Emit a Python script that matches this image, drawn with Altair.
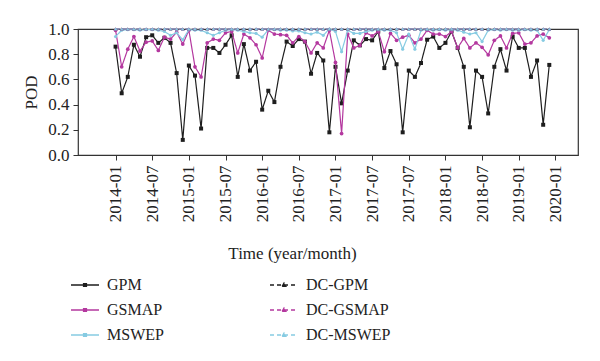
import altair as alt
import pandas as pd

tick_labels = ["2014-01", "2014-07", "2015-01", "2015-07", "2016-01", "2016-07",
               "2017-01", "2017-07", "2017-07", "2018-01", "2018-07", "2019-01", "2020-01"]

gpm = [0.86, 0.49, 0.62, 0.875, 0.78, 0.935, 0.95, 0.89, 0.93, 0.89, 0.65, 0.12,
       0.71, 0.63, 0.21, 0.85, 0.85, 0.81, 0.875, 0.95, 0.62, 0.88, 0.67, 0.74,
       0.36, 0.51, 0.42, 0.70, 0.90, 0.865, 0.92, 0.90, 0.645, 0.81, 0.75, 0.18,
       0.70, 0.41, 0.67, 0.91, 0.87, 0.92, 0.91, 0.98, 0.69, 0.825, 0.72, 0.18,
       0.67, 0.62, 0.73, 0.915, 0.94, 0.85, 0.89, 0.98, 0.85, 0.70, 0.22, 0.67,
       0.62, 0.33, 0.70, 0.84, 0.67, 0.94, 0.85, 0.85, 0.62, 0.75, 0.24, 0.715]

gsmap = [0.99, 0.70, 0.84, 0.94, 0.825, 0.895, 0.905, 0.83, 0.935, 0.92, 0.975, 0.88,
         0.99, 0.70, 0.62, 0.89, 0.92, 0.91, 0.97, 0.98, 0.81, 0.96, 0.93, 0.875,
         0.77, 0.99, 0.96, 0.955, 0.95, 0.89, 0.94, 0.90, 0.81, 0.89, 0.85, 0.99,
         0.735, 0.17, 0.96, 0.85, 0.87, 0.97, 0.945, 0.98, 0.82, 0.965, 0.91, 0.935,
         0.95, 0.89, 0.92, 0.99, 0.96, 0.96, 0.94, 0.98, 0.85, 0.925, 0.85, 0.89,
         0.855, 0.795, 0.91, 0.945, 0.85, 0.965, 0.97, 0.88, 0.89, 0.945, 0.96, 0.93]

mswep = [0.94, 0.99, 0.995, 0.995, 0.99, 0.995, 0.995, 0.99, 0.98, 0.95, 0.97, 0.915,
         0.995, 0.99, 0.99, 0.97, 0.95, 0.97, 0.99, 0.995, 0.99, 0.98, 0.97, 0.965,
         0.935, 0.995, 0.995, 0.99, 0.99, 0.985, 0.985, 0.97, 0.96, 0.975, 0.95, 1.0,
         0.98, 0.82, 0.99, 0.965, 0.965, 0.98, 0.99, 0.995, 0.99, 0.99, 0.97, 0.84,
         0.96, 0.84, 0.99, 0.995, 0.99, 0.995, 0.99, 0.995, 0.99, 0.975, 0.96, 0.97,
         0.90, 0.99, 0.995, 0.99, 0.995, 0.99, 0.99, 0.995, 0.99, 0.99, 0.91, 0.995]

dc_gpm = [1.0, 1.0, 1.0, 1.0, 1.0, 1.0, 1.0, 1.0, 1.0, 1.0, 1.0, 1.0,
          1.0, 1.0, 1.0, 1.0, 1.0, 1.0, 1.0, 1.0, 1.0, 1.0, 1.0, 1.0,
          1.0, 1.0, 1.0, 1.0, 1.0, 1.0, 1.0, 1.0, 1.0, 1.0, 1.0, 1.0,
          1.0, 1.0, 1.0, 1.0, 1.0, 1.0, 1.0, 1.0, 1.0, 1.0, 1.0, 1.0,
          1.0, 1.0, 1.0, 1.0, 1.0, 1.0, 1.0, 1.0, 1.0, 1.0, 1.0, 1.0,
          1.0, 1.0, 1.0, 1.0, 1.0, 1.0, 1.0, 1.0, 1.0, 1.0, 1.0, 1.0]
dc_gsmap = list(dc_gpm)
dc_mswep = list(dc_gpm)

series_names = ["GPM", "GSMAP", "MSWEP", "DC-GPM", "DC-GSMAP", "DC-MSWEP"]
series_values = [gpm, gsmap, mswep, dc_gpm, dc_gsmap, dc_mswep]

rows = []
for name, vals in zip(series_names, series_values):
    for i, v in enumerate(vals):
        rows.append({"series": name, "idx": i, "pod": v})
df = pd.DataFrame(rows)

FONT = "Liberation Serif"
BLACK = "#1e1e1e"
MAG = "#b4389f"
BLUE = "#86cbe2"

legend_order = series_names
color_range = [BLACK, MAG, BLUE, BLACK, MAG, BLUE]
dash_range = [[1, 0], [1, 0], [1, 0], [4, 3], [4, 3], [4, 3]]
dot = "M-1,0H1M-0.1,-0.1H0.1V0.1H-0.1Z"
tri = "M-1,0H1M-0.13,0.1L0,-0.13L0.13,0.1Z"
shape_range = [dot, dot, dot, tri, tri, tri]

color_of = dict(zip(legend_order, color_range))
dash_of = dict(zip(legend_order, dash_range))

color_scale = alt.Scale(domain=legend_order, range=color_range)
dash_scale = alt.Scale(domain=legend_order, range=dash_range)

label_expr = "[" + ",".join("'%s'" % t for t in tick_labels) + "][round(datum.value/6)]"

x_enc = alt.X("idx:Q",
              scale=alt.Scale(domain=[-6.15, 75.7], nice=False, zero=False),
              axis=alt.Axis(values=[i * 6 for i in range(len(tick_labels))],
                            labelExpr=label_expr, labelAngle=-90,
                            labelFont=FONT, labelFontSize=17, labelColor="#222",
                            labelPadding=5, tickSize=5, tickColor="#333",
                            domain=False, grid=False,
                            title="Time (year/month)", titleFont=FONT,
                            titleFontSize=17, titleFontWeight="normal",
                            titleColor="#222", titleX=214, titleY=98,
                            titleBaseline="middle"))
y_enc = alt.Y("pod:Q",
              scale=alt.Scale(domain=[0, 1], nice=False),
              axis=alt.Axis(values=[0, 0.2, 0.4, 0.6, 0.8, 1.0], format=".1f",
                            labelFont=FONT, labelFontSize=17, labelColor="#222",
                            labelPadding=4, tickSize=5, tickColor="#333",
                            domain=False, grid=False,
                            title="POD", titleFont=FONT, titleFontSize=17,
                            titleFontWeight="normal", titleColor="#222",
                            titlePadding=7))

marker = {
    "GPM": ("square", 16),
    "GSMAP": ("circle", 14),
    "MSWEP": ("circle", 10),
    "DC-GPM": ("triangle-up", 12),
    "DC-GSMAP": ("triangle-up", 12),
    "DC-MSWEP": ("triangle-up", 12),
}

layers = []
for name in series_names:
    base = alt.Chart(df).transform_filter(alt.datum.series == name)
    line = base.mark_line(strokeWidth=1.2, color=color_of[name],
                          strokeDash=dash_of[name]).encode(x=x_enc, y=y_enc)
    shp, sz = marker[name]
    pts = base.mark_point(filled=True, shape=shp, size=sz, opacity=1,
                          color=color_of[name]).encode(x=x_enc, y=y_enc)
    layers += [line, pts]

legend_layer = alt.Chart(df).transform_filter("false").mark_point(
    filled=True, strokeWidth=1.4, opacity=1).encode(
    x=x_enc, y=y_enc,
    color=alt.Color("series:N", scale=color_scale,
                    legend=alt.Legend(orient="none", legendX=-8, legendY=241,
                                      columns=2, columnPadding=103, rowPadding=2,
                                      title=None, symbolSize=784,
                                      symbolStrokeWidth=1.4, labelOffset=7,
                                      labelFont=FONT, labelFontSize=16,
                                      labelColor="#222", labelLimit=200)),
    stroke=alt.Stroke("series:N", scale=color_scale),
    strokeDash=alt.StrokeDash("series:N", scale=dash_scale),
    shape=alt.Shape("series:N", scale=alt.Scale(domain=legend_order, range=shape_range)),
)

chart = alt.layer(*layers, legend_layer).properties(
    width=500, height=126,
    padding={"left": 14, "top": 12, "right": 5, "bottom": 5},
).configure_view(stroke="#333", strokeWidth=1.2)

chart.save("out.html", embed_options={"renderer": "svg", "actions": False})
